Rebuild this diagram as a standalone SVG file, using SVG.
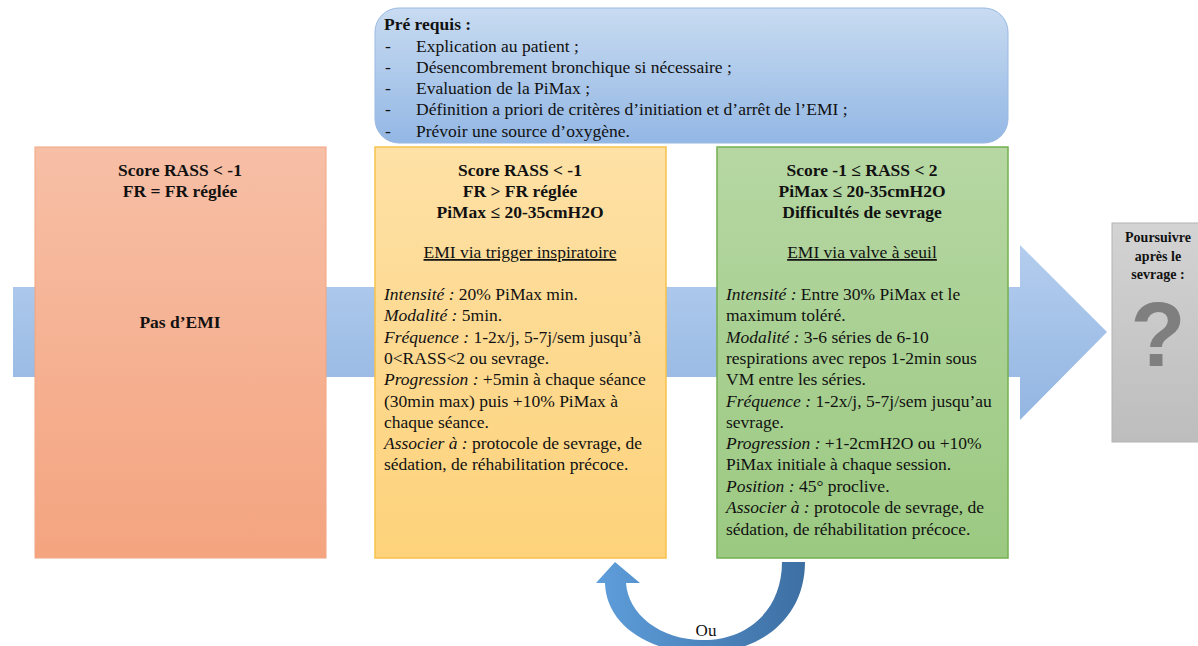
<svg xmlns="http://www.w3.org/2000/svg" width="1198" height="646" viewBox="0 0 1198 646" font-family="'Liberation Serif', 'DejaVu Serif', serif">
<defs>
<linearGradient id="gBand" x1="0" y1="245" x2="0" y2="420" gradientUnits="userSpaceOnUse"><stop offset="0" stop-color="#b4cdee"/><stop offset="1" stop-color="#93b6e2"/></linearGradient>
<linearGradient id="gTop" x1="0" y1="0" x2="0" y2="1"><stop offset="0" stop-color="#c8dbf1"/><stop offset="1" stop-color="#93b7e4"/></linearGradient>
<linearGradient id="gRed" x1="0" y1="0" x2="0" y2="1"><stop offset="0" stop-color="#f7bfa6"/><stop offset="1" stop-color="#f4a47f"/></linearGradient>
<linearGradient id="gYel" x1="0" y1="0" x2="0" y2="1"><stop offset="0" stop-color="#fee1a6"/><stop offset="1" stop-color="#fdd27a"/></linearGradient>
<linearGradient id="gGrn" x1="0" y1="0" x2="0" y2="1"><stop offset="0" stop-color="#b6d7a3"/><stop offset="1" stop-color="#9bc981"/></linearGradient>
<linearGradient id="gGry" x1="0" y1="0" x2="0" y2="1"><stop offset="0" stop-color="#d3d3d3"/><stop offset="1" stop-color="#bdbdbd"/></linearGradient>
<linearGradient id="gCurve" x1="596" y1="0" x2="805" y2="0" gradientUnits="userSpaceOnUse"><stop offset="0" stop-color="#5e9edb"/><stop offset="1" stop-color="#3d6fa3"/></linearGradient>
</defs>
<style>
text{font-family:"Liberation Serif","DejaVu Serif",serif;font-size:17.5px;fill:#111}
.b{font-weight:bold}
.c{text-anchor:middle}
.i{font-style:italic}
.u{text-decoration:underline}
.q{font-family:"Liberation Sans","DejaVu Sans",sans-serif;font-size:90px;font-weight:bold;fill:#7f7f7f}
</style>
<g id="connectors">
<path id="main-arrow" d="M13 287 H1020 V245 L1107 332 L1020 420 V377 H13 Z" fill="url(#gBand)"/>
<path id="loop-arrow" d="M805 562 C805 617 762 653 703 653 C648 653 606 624 605 583 L596 583 L615 562 L640 583 L626 583 C628 614 660 640 703 640 C748 640 782 610 782 562 Z" fill="url(#gCurve)"/>
<text class="c" x="706" y="636" style="font-size:17px">Ou</text>
</g>
<g id="prerequis">
<rect x="375" y="8" width="633" height="135" rx="24" fill="url(#gTop)" stroke="#9ab9e2" stroke-width="1"/>
<text class="b" x="384" y="30">Pré requis :</text>
<text x="385" y="52">-</text><text x="416" y="52">Explication au patient ;</text>
<text x="385" y="73">-</text><text x="416" y="73">Désencombrement bronchique si nécessaire ;</text>
<text x="385" y="94">-</text><text x="416" y="94">Evaluation de la PiMax ;</text>
<text x="385" y="115">-</text><text x="416" y="115">Définition a priori de critères d’initiation et d’arrêt de l’EMI ;</text>
<text x="385" y="137">-</text><text x="416" y="137">Prévoir une source d’oxygène.</text>
</g>
<g id="node-pas-emi">
<rect x="35" y="147" width="291" height="411" fill="url(#gRed)" stroke="#f2a582" stroke-width="1"/>
<text class="b c" x="180" y="176">Score RASS &lt; -1</text>
<text class="b c" x="180" y="197">FR = FR réglée</text>
<text class="b c" x="180" y="328">Pas d’EMI</text>
</g>
<g id="node-trigger">
<rect x="375" y="147" width="291" height="411" fill="url(#gYel)" stroke="#f6c24c" stroke-width="1.5"/>
<text class="b c" x="520" y="176">Score RASS &lt; -1</text>
<text class="b c" x="520" y="197">FR &gt; FR réglée</text>
<text class="b c" x="520" y="218">PiMax ≤ 20-35cmH2O</text>
<text class="c u" x="520" y="258">EMI via trigger inspiratoire</text>
<text x="384" y="300"><tspan class="i">Intensité :</tspan> 20% PiMax min.</text>
<text x="384" y="321"><tspan class="i">Modalité :</tspan> 5min.</text>
<text x="384" y="343"><tspan class="i">Fréquence :</tspan> 1-2x/j, 5-7j/sem jusqu’à</text>
<text x="384" y="364">0&lt;RASS&lt;2 ou sevrage.</text>
<text x="384" y="385"><tspan class="i">Progression :</tspan> +5min à chaque séance</text>
<text x="384" y="407">(30min max) puis +10% PiMax à</text>
<text x="384" y="428">chaque séance.</text>
<text x="384" y="449"><tspan class="i">Associer à :</tspan> protocole de sevrage, de</text>
<text x="384" y="470">sédation, de réhabilitation précoce.</text>
</g>
<g id="node-valve">
<rect x="717" y="147" width="291" height="411" fill="url(#gGrn)" stroke="#74b050" stroke-width="1.5"/>
<text class="b c" x="862" y="176">Score -1 ≤ RASS &lt; 2</text>
<text class="b c" x="862" y="197">PiMax ≤ 20-35cmH2O</text>
<text class="b c" x="862" y="218">Difficultés de sevrage</text>
<text class="c u" x="862" y="258">EMI via valve à seuil</text>
<text x="726" y="300"><tspan class="i">Intensité :</tspan> Entre 30% PiMax et le</text>
<text x="726" y="321">maximum toléré.</text>
<text x="726" y="343"><tspan class="i">Modalité :</tspan> 3-6 séries de 6-10</text>
<text x="726" y="364">respirations avec repos 1-2min sous</text>
<text x="726" y="385">VM entre les séries.</text>
<text x="726" y="407"><tspan class="i">Fréquence :</tspan> 1-2x/j, 5-7j/sem jusqu’au</text>
<text x="726" y="428">sevrage.</text>
<text x="726" y="449"><tspan class="i">Progression :</tspan> +1-2cmH2O ou +10%</text>
<text x="726" y="470">PiMax initiale à chaque session.</text>
<text x="726" y="492"><tspan class="i">Position :</tspan> 45° proclive.</text>
<text x="726" y="513"><tspan class="i">Associer à :</tspan> protocole de sevrage, de</text>
<text x="726" y="535">sédation, de réhabilitation précoce.</text>
</g>
<g id="node-poursuivre">
<rect x="1112" y="223" width="92" height="219" fill="url(#gGry)" stroke="#b3b3b3" stroke-width="1"/>
<text class="b c" x="1158" y="242" style="font-size:14px">Poursuivre</text>
<text class="b c" x="1158" y="261" style="font-size:14px">après le</text>
<text class="b c" x="1158" y="279" style="font-size:14px">sevrage :</text>
<text class="c q" x="1158" y="366">?</text>
</g>
</svg>
